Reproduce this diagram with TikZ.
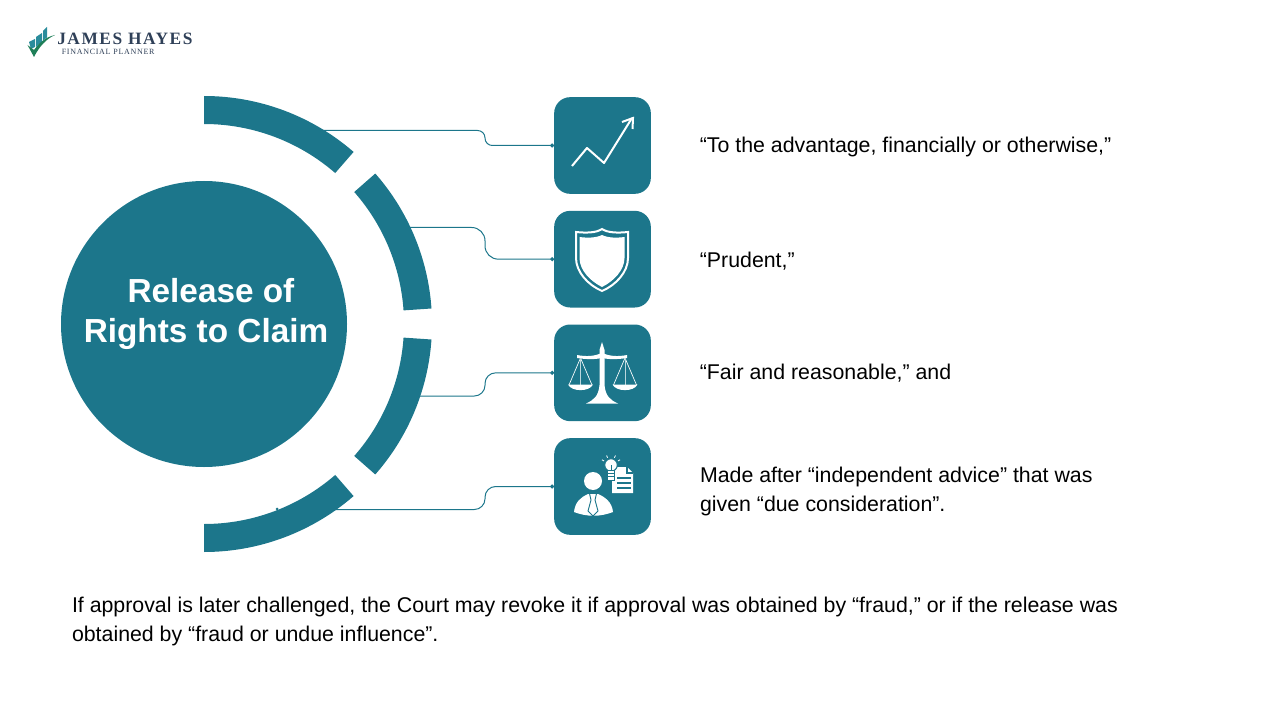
\documentclass[tikz,border=0pt]{standalone}
\usepackage{fontspec}
\setmainfont{Liberation Sans}
\newfontfamily\logofont[LetterSpace=9]{Liberation Serif}
\usetikzlibrary{positioning, arrows.meta}
\definecolor{tealmain}{HTML}{1C768B}
\definecolor{logonavy}{HTML}{2F4058}
\definecolor{logogreen}{HTML}{1F7F58}
\definecolor{logoteal}{HTML}{2A8C9C}
\tikzset{
	x=.75pt, y=.75pt,
	node distance=12.5pt, % gap between the icon boxes
	iconbox/.style={fill=tealmain, rounded corners=12pt, minimum size=72.5pt, inner sep=0pt, outer sep=0pt},
	caption/.style={inner sep=0pt, outer sep=0pt, align=left, font=\fontsize{16}{21.75}\selectfont},
	ring/.style={fill=tealmain},
	link/.style={tealmain, line width=.75pt, -{Circle[length=3pt]}},
	iconline/.style={white, line width=1.5pt, line join=miter},
}
\begin{document}
\begin{tikzpicture}
	\useasboundingbox (0,0) rectangle (1280,-720);

	% Logo
	\fill[logoteal] (29,-42) -- (35,-39) -- (35,-47) -- (31,-49) -- cycle;
	\fill[logoteal] (36,-37) -- (42,-33) -- (42,-42) -- (36,-47) -- cycle;
	\fill[logoteal] (43,-31) -- (47,-27) -- (47,-37.5) -- (43,-40.5) -- cycle;
	\fill[logogreen] (27.5,-45) -- (34,-50) .. controls (40,-42) and (46,-37) .. (55,-35)
		.. controls (46,-39) and (39,-47) .. (34,-57) -- cycle;
	\node[anchor=base west, inner sep=0pt, text=logonavy, font=\logofont\bfseries\fontsize{13}{14}\selectfont] (logoname) at (57,-44.5) {JAMES HAYES};
	\node[anchor=base west, inner sep=0pt, text=logonavy, font=\logofont\fontsize{6}{7}\selectfont] (logosub) at (61.5,-55) {FINANCIAL PLANNER};

	% Hub and ring
	\node[circle, fill=tealmain, minimum size=214.5pt, inner sep=0pt] (hub) at (204,-324) {};
	\node[text=white, align=center, font=\bfseries\fontsize{25}{30}\selectfont] (hubtitle) at (206,-314) {\hspace*{7.5pt}Release of\\Rights to Claim};
	\foreach \from/\to in {90/49, 41.3/3.9, -3.9/-41.3, -49/-90}{
		\fill[ring] ([shift={(\from:228)}]hub.center) arc[start angle=\from, end angle=\to, radius=228]
			-- ([shift={(\to:200)}]hub.center) arc[start angle=\to, end angle=\from, radius=200] -- cycle;
	}
	\fill[ring] (277,-509) circle (1.5);

	% Boxes
	\node[iconbox] (boxA) at (602.5,-145.5) {};
	\node[iconbox, below=12.75pt of boxA] (boxB) {};
	\node[iconbox, below=12.75pt of boxB] (boxC) {};
	\node[iconbox, below=12.75pt of boxC] (boxD) {};

	% Captions
	\node[caption, right=36.75pt of boxA, yshift=-.75pt] (capA) {“To the advantage, financially or otherwise,”};
	\node[caption, right=36.75pt of boxB, yshift=-1.25pt] (capB) {“Prudent,”};
	\node[caption, right=36.75pt of boxC] (capC) {“Fair and reasonable,” and};
	\node[caption, anchor=west] (capD) at (700,-491.5) {Made after “independent advice” that was\\given “due consideration”.};
	\node[caption, anchor=west] (note) at (72,-621.5) {If approval is later challenged, the Court may revoke it if approval was obtained by “fraud,” or if the release was\\obtained by “fraud or undue influence”.};

	% Connectors
	\coordinate (gutter) at (485,0);
	\coordinate (startA) at (323,-130.5);
	\coordinate (startB) at (408,-227.5);
	\coordinate (startC) at (418,-396);
	\coordinate (startD) at (335,-509.5);
	\draw[link, rounded corners=5.5pt] (startA) -- (startA -| gutter) -- (boxA.west -| gutter) -- (boxA.west);
	\draw[link, rounded corners=10pt] (startB) -- (startB -| gutter) -- (boxB.west -| gutter) -- (boxB.west);
	\draw[link, rounded corners=8pt] (startC) -- (startC -| gutter) -- (boxC.west -| gutter) -- (boxC.west);
	\draw[link, rounded corners=8pt] (startD) -- (startD -| gutter) -- (boxD.west -| gutter) -- (boxD.west);

	% Icon: chart
	\draw[iconline, line join=round] (572,-166) -- (587,-148) -- (604,-163) -- (632,-118);
	\draw[iconline] (622,-122) -- (633,-118) -- (632.5,-129);

	% Icon: shield
	\draw[white, line width=1.5pt] (602,-229) .. controls (596,-233) and (586,-233) .. (576,-232)
		-- (576,-258) .. controls (576,-272) and (588,-285) .. (602,-291)
		.. controls (616,-285) and (628,-272) .. (628,-258) -- (628,-232)
		.. controls (618,-233) and (608,-233) .. (602,-229) -- cycle;
	\fill[white] (602,-235) .. controls (596,-238) and (587,-238) .. (579.5,-237)
		-- (579.5,-258) .. controls (579.5,-270) and (590,-281) .. (602,-287)
		.. controls (614,-281) and (624.5,-270) .. (624.5,-258) -- (624.5,-237)
		.. controls (617,-238) and (608,-238) .. (602,-235) -- cycle;

	% Icon: scales
	\fill[white] (586,-403.5) .. controls (594,-400) and (598.5,-396) .. (599.5,-385) -- (599.5,-350)
		-- (602,-342) -- (604.5,-350) -- (604.5,-385) .. controls (605.5,-396) and (610,-400) .. (618,-403.5) -- cycle;
	\fill[white] (577,-355) .. controls (587,-357) and (595,-356) .. (602,-353)
		.. controls (609,-356) and (617,-357) .. (627,-355) -- (627,-358)
		.. controls (617,-359.5) and (609,-359.5) .. (602,-358) .. controls (595,-359.5) and (587,-359.5) .. (577,-358) -- cycle;
	\foreach \pan in {580.5, 625}{
		\draw[white, line width=.5pt] (\pan,-358) -- (\pan-11.5,-385) (\pan,-358) -- (\pan+11.5,-385);
		\draw[white!70!tealmain, line width=.6pt] (\pan,-358) -- (\pan,-385);
		\fill[white] (\pan-12.5,-384.5) -- (\pan+12.5,-384.5) .. controls (\pan+9,-392) and (\pan-9,-392) .. (\pan-12.5,-384.5) -- cycle;
	}

	% Icon: person, note and bulb
	\fill[white] (593,-481) circle (9);
	\fill[white] (574,-512) .. controls (575,-502) and (581,-497) .. (588,-494) -- (598,-494)
		.. controls (605,-497) and (612,-502) .. (613,-512) .. controls (600,-517) and (587,-517) .. (574,-512) -- cycle;
	\draw[tealmain, line width=.7pt, line join=round] (589.5,-493.5) -- (596.5,-493.5) -- (595,-500) -- (598,-511) -- (593,-516) -- (588,-511) -- (591,-500) -- cycle;
	\fill[white] (612,-467) -- (627,-467) -- (633,-473) -- (633,-493) -- (612,-493) -- cycle;
	\draw[tealmain, line width=.8pt] (627,-467) -- (627,-473) -- (633,-473);
	\foreach \rowy in {-478,-483,-488}{
		\draw[tealmain, line width=.8pt] (617,\rowy) -- (631,\rowy);
	}
	\fill[white, draw=tealmain, line width=.8pt] (611,-465) circle (6.3);
	\fill[white, draw=tealmain, line width=.5pt] (607.5,-470) rectangle (614.5,-480);
	\draw[tealmain, line width=.5pt] (607.5,-473.5) -- (614.5,-473.5) (607.5,-476.5) -- (614.5,-476.5);
	\draw[tealmain, line width=.5pt] (611,-470) -- (611,-465);
	\foreach \ang in {150,115,65,30}{
		\draw[white, line width=.6pt] ([shift={(\ang:8)}]611,-465) -- ([shift={(\ang:10.5)}]611,-465);
	}
\end{tikzpicture}
\end{document}
